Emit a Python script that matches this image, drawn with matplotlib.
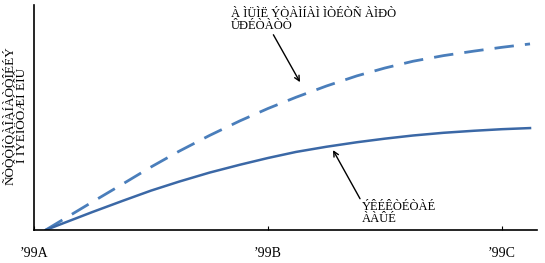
import matplotlib
matplotlib.use("Agg")
import matplotlib.pyplot as plt

# data
x_vals = [0.05, 0.25, 0.38, 0.5, 0.62, 0.75, 0.88, 1.0, 1.12, 1.25, 1.38, 1.5, 1.62, 1.75, 1.88, 2.0, 2.12]
dashed_vals = [0.0, 0.125, 0.205, 0.28, 0.35, 0.42, 0.485, 0.54, 0.59, 0.64, 0.685, 0.72, 0.75, 0.775, 0.795, 0.812, 0.827]
solid_vals = [0.0, 0.08, 0.13, 0.175, 0.215, 0.255, 0.29, 0.32, 0.347, 0.37, 0.39, 0.406, 0.42, 0.432, 0.441, 0.448, 0.453]
tick_pos = [0, 1, 2]
tick_labels = ["\u201999A", "\u201999B", "\u201999C"]

upper_note = "À ÌÜÌË ÝÒÀÌÍÀÌ ÌÒÉÒÑ ÀÌÐÒ\nÛÐÉÒÀÒÒ"
lower_note = "ÝÊÉÊÒÉÒÀÉ\nÀÀÛÉ"
y_title = "ÑÒÒÒÍÒÀÎÀÍÀÒÒÎÉÉÝ\nÎ ÌÝÈÌÖÒÆÍ ÉÎÛ"

plt.rcParams['font.family'] = ['Liberation Serif', 'DejaVu Serif']

fig = plt.figure(figsize=(5.45, 2.63), dpi=100)
ax = fig.add_axes([0.0624, 0.1255, 0.923, 0.8555])

ax.plot(x_vals, dashed_vals, color='#4a7ebb', lw=2, dashes=(7, 4))
ax.plot(x_vals, solid_vals, color='#3b68a6', lw=1.8)

ax.set_xlim(0, 2.15)
ax.set_ylim(0, 1)
ax.set_xticks(tick_pos)
ax.set_xticklabels(tick_labels, fontsize=10)
ax.tick_params(axis='x', length=3, direction='in', pad=12)
ax.set_yticks([])
ax.spines['top'].set_visible(False)
ax.spines['right'].set_visible(False)
for s in ['left', 'bottom']:
    ax.spines[s].set_linewidth(1.2)

ax.annotate(upper_note, xy=(1.137, 0.657), xytext=(0.84, 0.88),
            fontsize=9, ha='left', va='bottom', linespacing=1.0,
            arrowprops=dict(arrowstyle='->', color='black', lw=1,
                            shrinkA=0, shrinkB=0, relpos=(0.25, 0)))
ax.annotate(lower_note, xy=(1.278, 0.355), xytext=(1.4, 0.02),
            fontsize=9, ha='left', va='bottom', linespacing=1.0,
            arrowprops=dict(arrowstyle='->', color='black', lw=1,
                            shrinkA=0, shrinkB=0, relpos=(0.0, 1.0)))

fig.text(0.03, 0.56, y_title, rotation=90, fontsize=9.5,
         ha='center', va='center', linespacing=1.0)

fig.savefig("out.png", dpi=100)
